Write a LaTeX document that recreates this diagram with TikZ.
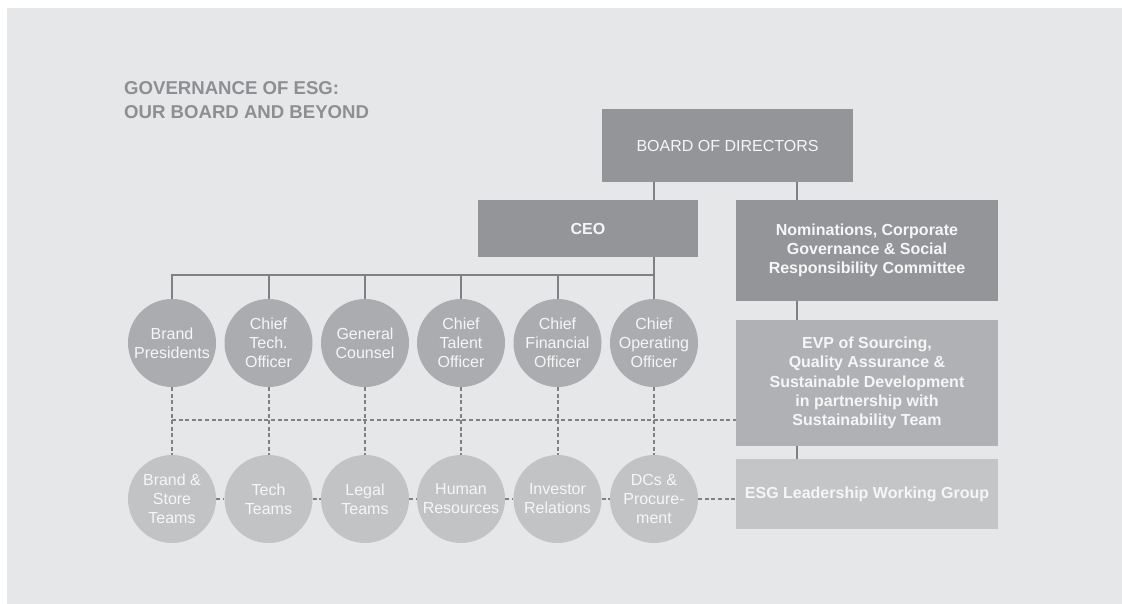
\documentclass[tikz,border=0pt]{standalone}
\usepackage{fontspec}
\setmainfont{Liberation Sans}
\usetikzlibrary{positioning}

\definecolor{panelgrey}{HTML}{E6E7E8}
\definecolor{titlegrey}{HTML}{8E8F92}
\definecolor{darkgrey}{HTML}{939598}
\definecolor{midgrey}{HTML}{B0B1B4}
\definecolor{lightgrey}{HTML}{C4C5C7}
\definecolor{topcircle}{HTML}{ABACAF}
\definecolor{lowcircle}{HTML}{C2C3C5}
\definecolor{linegrey}{HTML}{808184}
\definecolor{labelwhite}{HTML}{F6F6F6}

\tikzset{
  boxlabel/.style={text=labelwhite, align=center, inner sep=0pt,
    font=\fontsize{16}{19.3}\selectfont\bfseries},
  darkbox/.style={boxlabel, fill=darkgrey},
  midbox/.style={boxlabel, fill=midgrey},
  lightbox/.style={boxlabel, fill=lightgrey},
  person/.style={circle, minimum size=88pt, inner sep=0pt, text=labelwhite,
    align=center, font=\fontsize{16}{19}\selectfont},
  solidlink/.style={draw=linegrey, line width=2pt},
  dashlink/.style={draw=linegrey, line width=2pt, dash pattern=on 4pt off 2.6pt},
}

\begin{document}
\begin{tikzpicture}[x=1pt,y=-1pt]
% background
\fill[white] (0,0) rectangle (1122,604);
\fill[panelgrey] (7,8) rectangle (1122,604);

% title
\node[anchor=north west, align=left, inner sep=0pt, text=titlegrey,
  font=\fontsize{18.6}{24}\selectfont\bfseries] (title) at (124,81.5)
  {GOVERNANCE OF ESG:\\OUR BOARD AND BEYOND};

% boxes
\node[darkbox, minimum width=251pt, minimum height=73pt,
  font=\fontsize{16}{19}\selectfont] (bod) at (727.5,145.5) {BOARD OF DIRECTORS};
\node[darkbox, minimum width=220pt, minimum height=57pt] (ceo) at (588,228.5) {CEO};
\node[darkbox, minimum width=262pt, minimum height=101pt] (nom) at (867,250.5)
  {Nominations, Corporate\\Governance \& Social\\Responsibility Committee};
\node[midbox, minimum width=262pt, minimum height=126pt] (evp) at (867,383)
  {EVP of Sourcing,\\Quality Assurance \&\\Sustainable Development\\in partnership with\\Sustainability Team};
\node[lightbox, minimum width=262pt, minimum height=70pt] (esg) at (867,494)
  {ESG Leadership Working Group};

% officers and their teams
\foreach \i/\x/\top/\low in {
  1/172/{Brand\\Presidents}/{Brand \&\\Store\\Teams},
  2/268.5/{Chief\\Tech.\\Officer}/{Tech\\Teams},
  3/365/{General\\Counsel}/{Legal\\Teams},
  4/461/{Chief\\Talent\\Officer}/{Human\\Resources},
  5/557.5/{Chief\\Financial\\Officer}/{Investor\\Relations},
  6/654/{Chief\\Operating\\Officer}/{DCs \&\\Procure-\\ment}} {
  \node[person, fill=topcircle] (p\i) at (\x,343) {\top};
  \node[person, fill=lowcircle] (t\i) at (\x,499) {\low};
}

\coordinate (bus) at (0,275);
\coordinate (spine) at (797,0);
\coordinate (mid) at (0,420);

% solid reporting lines
\draw[solidlink] (bod.south -| p6) -- (ceo.north -| p6);
\draw[solidlink] (ceo.south -| p6) -- (p6.north);
\draw[solidlink] (p1.north) -- (p1.north |- bus) -- (p6.north |- bus);
\foreach \i in {2,...,5}
  \draw[solidlink] (p\i.north) -- (p\i.north |- bus);
\draw[solidlink] (bod.south -| spine) -- (nom.north -| spine);
\draw[solidlink] (nom.south -| spine) -- (evp.north -| spine);
\draw[solidlink] (evp.south -| spine) -- (esg.north -| spine);

% dashed working links
\foreach \i in {1,...,6}
  \draw[dashlink] (p\i.south) -- (t\i.north);
\draw[dashlink] (p1.south |- mid) -- (evp.west |- mid);
\foreach \i/\j in {1/2,2/3,3/4,4/5,5/6}
  \draw[dashlink] (t\i.east) -- (t\j.west);
\draw[dashlink] (t6.east) -- (t6.east -| esg.west);
\end{tikzpicture}
\end{document}
